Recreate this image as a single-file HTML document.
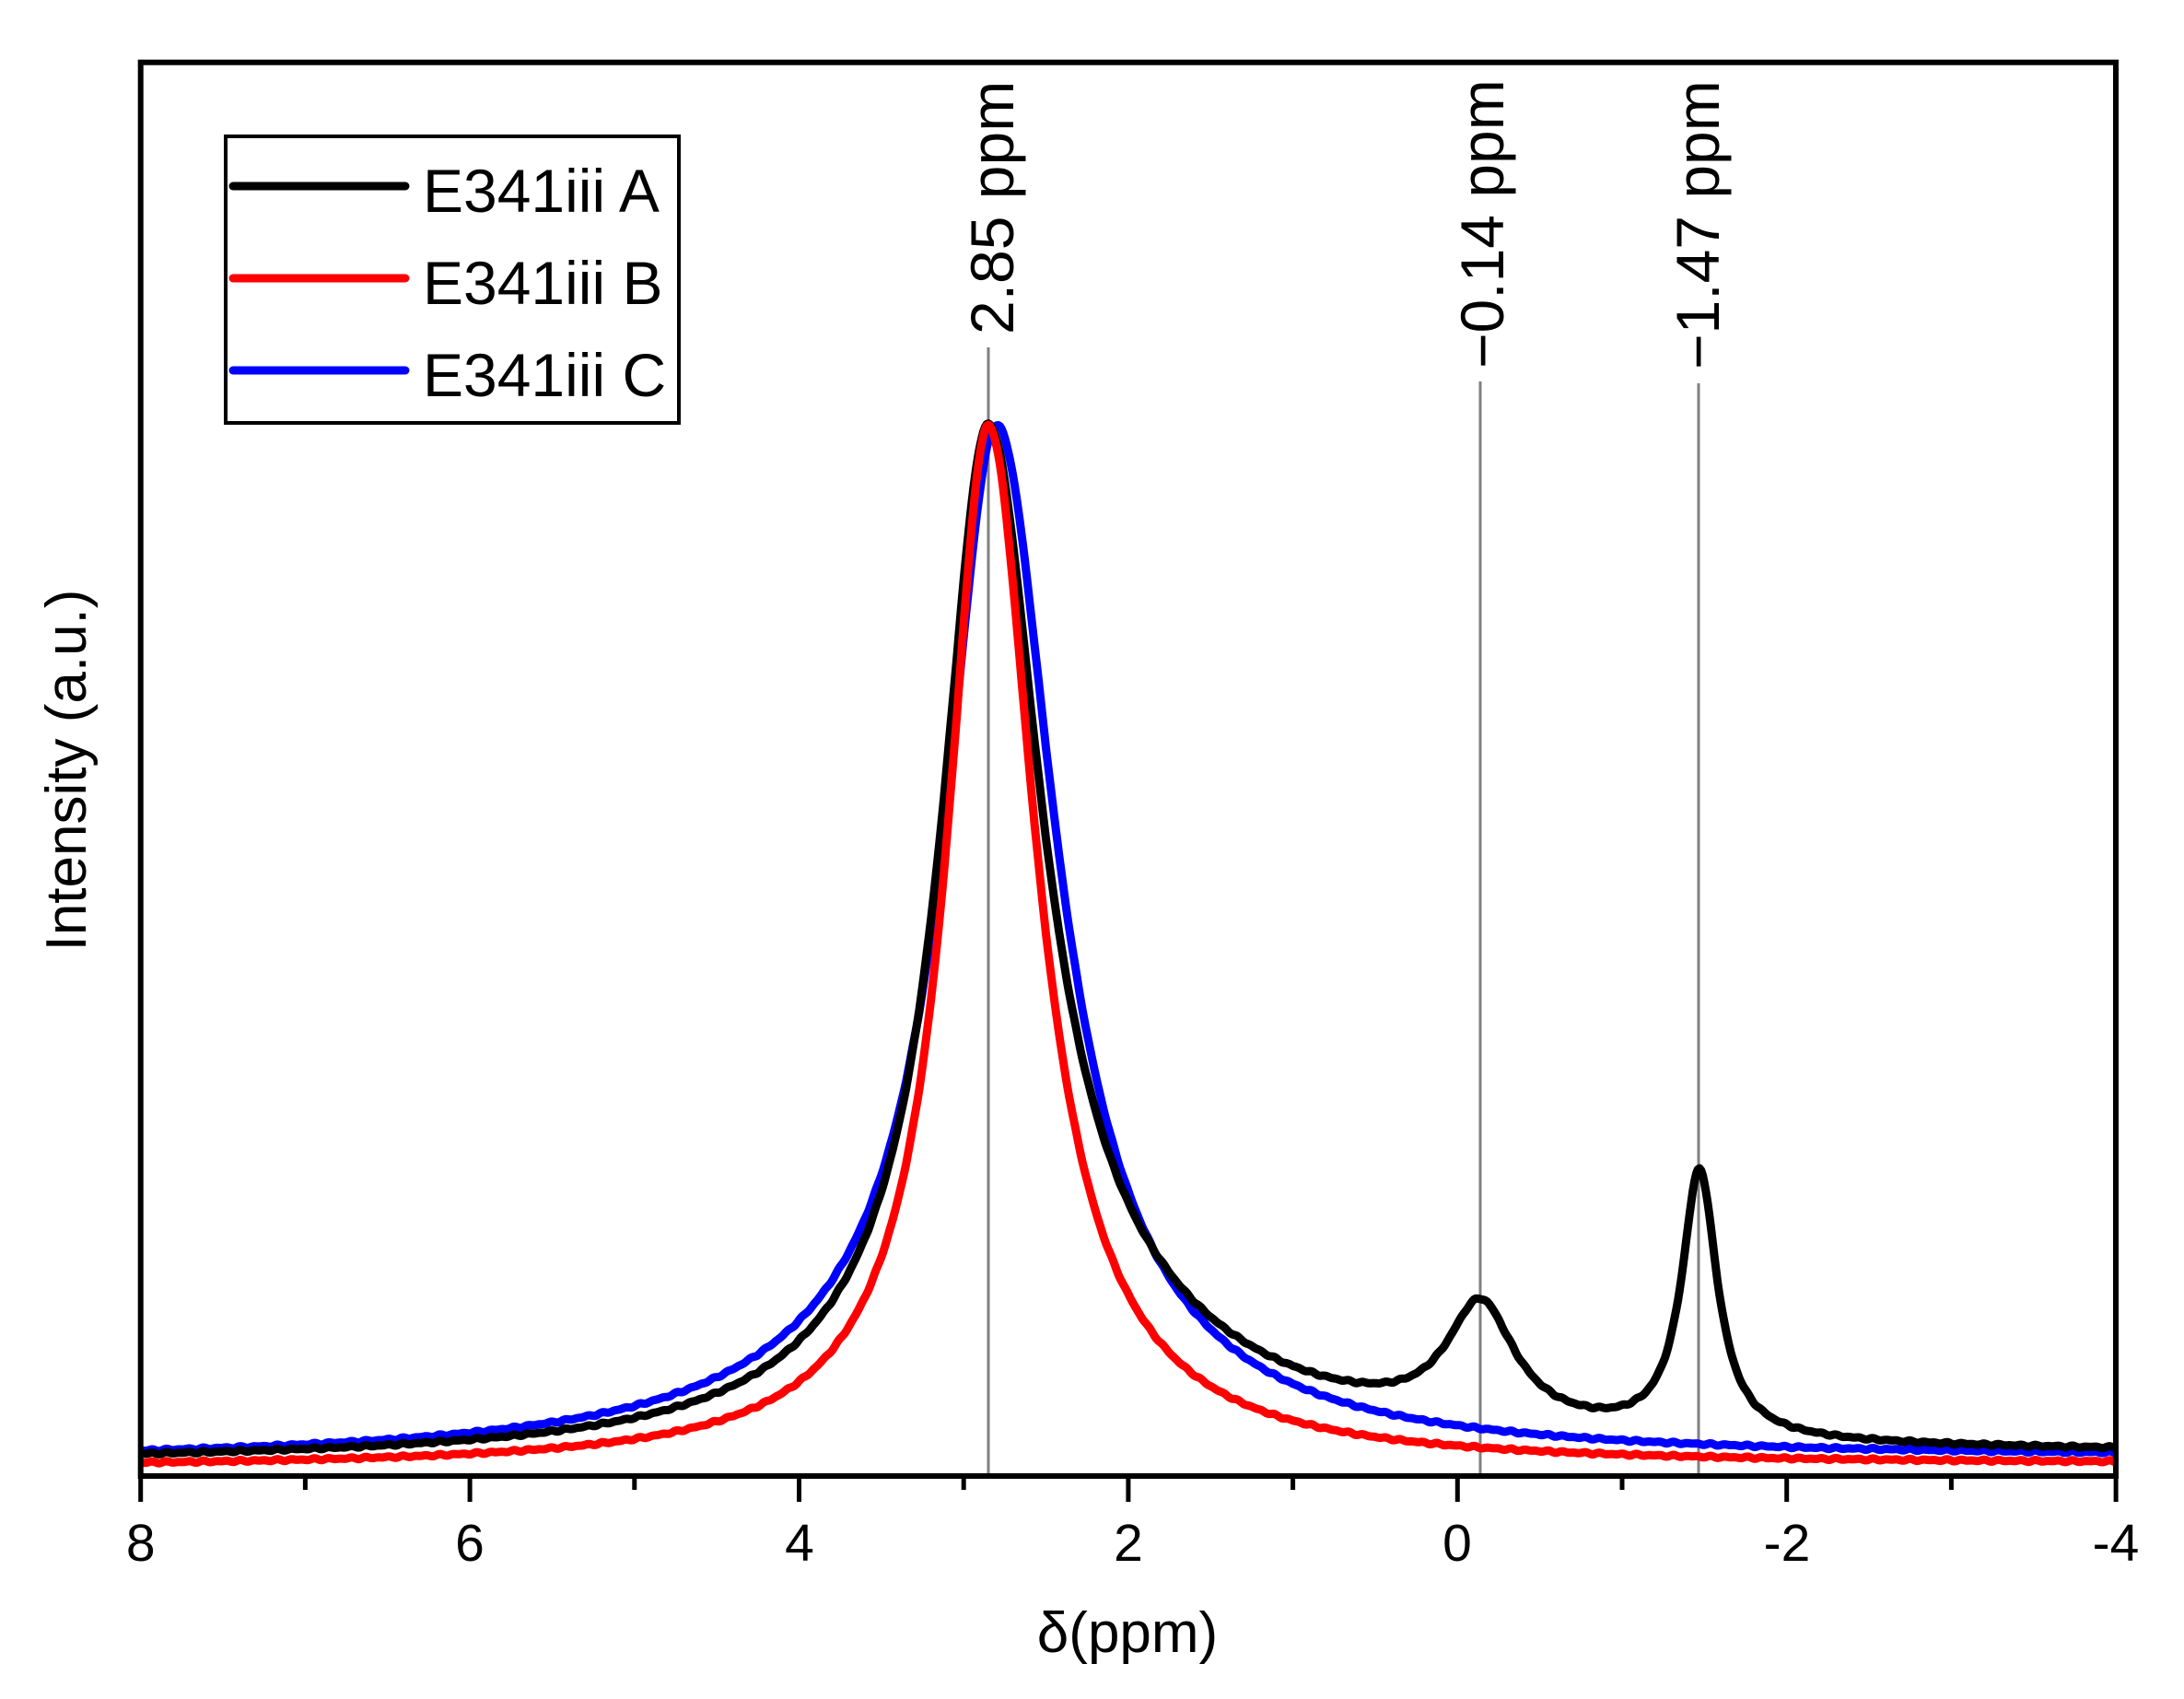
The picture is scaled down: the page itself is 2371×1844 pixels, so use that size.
<!DOCTYPE html>
<html><head><meta charset="utf-8"><style>
html,body{margin:0;padding:0;background:#fff;}
svg{display:block;font-family:"Liberation Sans",Arial,sans-serif;}
</style></head><body>
<svg id="s" width="2371" height="1844" viewBox="0 0 2371 1844" xmlns="http://www.w3.org/2000/svg">
<rect width="2371" height="1844" fill="#fff"/>
<g stroke="#808080" stroke-width="3">
<line x1="1073" y1="377" x2="1073" y2="1602"/>
<line x1="1607" y1="414" x2="1607" y2="1602"/>
<line x1="1844" y1="416" x2="1844" y2="1602"/>
</g>
<g id="curves" fill="none" stroke-width="9" stroke-linejoin="round"></g>
<rect x="152.7" y="67.7" width="2144.3" height="1534.3" fill="none" stroke="#000" stroke-width="6"/>
<g stroke="#000" stroke-width="5" id="ticks"></g>
<g font-size="57" text-anchor="middle" fill="#000">
<text x="152.7" y="1694">8</text>
<text x="510" y="1694">6</text>
<text x="868" y="1694">4</text>
<text x="1225" y="1694">2</text>
<text x="1582" y="1694">0</text>
<text x="1940" y="1694">-2</text>
<text x="2297" y="1694">-4</text>
</g>
<text x="1224" y="1793" font-size="62" text-anchor="middle">δ(ppm)</text>
<text transform="translate(93,836) rotate(-90)" font-size="62" text-anchor="middle">Intensity (a.u.)</text>
<g font-size="66">
<text transform="translate(1100,363) rotate(-90)">2.85 ppm</text>
<text transform="translate(1632,400) rotate(-90)">−0.14 ppm</text>
<text transform="translate(1866,401) rotate(-90)">−1.47 ppm</text>
</g>
<rect x="245" y="148" width="492" height="311" fill="#fff" stroke="#000" stroke-width="4"/>
<g stroke-width="9" stroke-linecap="round">
<line x1="253" y1="202" x2="440" y2="202" stroke="#000"/>
<line x1="253" y1="302" x2="440" y2="302" stroke="#ff0000"/>
<line x1="253" y1="402" x2="440" y2="402" stroke="#0000ff"/>
</g>
<g font-size="66">
<text x="459" y="230">E341iii A</text>
<text x="459" y="330">E341iii B</text>
<text x="459" y="430">E341iii C</text>
</g>
<script>
(function(){
var NS="http://www.w3.org/2000/svg";
function X(p){return 152.7+(8-p)*178.7;}
function L(d,w){return 1/(1+(d/w)*(d/w));}
function black(p){var d=p-2.85,f;
 if(d>0) f=0.92*L(d,0.34)+0.08*L(d,1.2); else f=0.85*L(d,0.38)+0.15*L(d,1.3);
 f+=0.115*L(p+0.14,0.25)+0.257*L(p+1.47,0.13);return f;}
function red(p){var d=p-2.85;
 if(d>0) return 0.95*L(d,0.3)+0.05*L(d,1.0);
 return 0.93*L(d,0.34)+0.07*L(d,0.9);}
function blue(p){var d=p-2.8;
 if(d>0) return 0.9*L(d,0.37)+0.1*L(d,1.4);
 return 0.9*L(d,0.42)+0.1*L(d,1.1);}
function path(fn,base0,base1,H,noise){
 var s="";for(var i=0;i<=1200;i++){var p=8-i*0.01;
 var b=base0+(base1-base0)*(i/1200);
 var y=b-H*fn(p)+noise*Math.sin(i*0.7)*Math.sin(i*0.13);
 s+=(i?"L":"M")+X(p).toFixed(1)+" "+y.toFixed(1);}
 return s;}
var g=document.getElementById("curves");
[[blue,1587,1583,"#0000ff"],[black,1587,1581,"#000"],[red,1593,1590,"#ff0000"]].forEach(function(c){
 var pk=c[0](c[0]===blue?2.8:2.85);var H=(c[1]-463)/pk;
 var e=document.createElementNS(NS,"path");e.setAttribute("d",path(c[0],c[1],c[2],H,1.2));e.setAttribute("stroke",c[3]);g.appendChild(e);});
var t=document.getElementById("ticks");
for(var k=0;k<=12;k++){var x=152.7+k*178.7;var l=document.createElementNS(NS,"line");
 l.setAttribute("x1",x);l.setAttribute("x2",x);l.setAttribute("y1",1602);l.setAttribute("y2",k%2?1617:1630);t.appendChild(l);}
})();
</script>
</svg>
</body></html>
